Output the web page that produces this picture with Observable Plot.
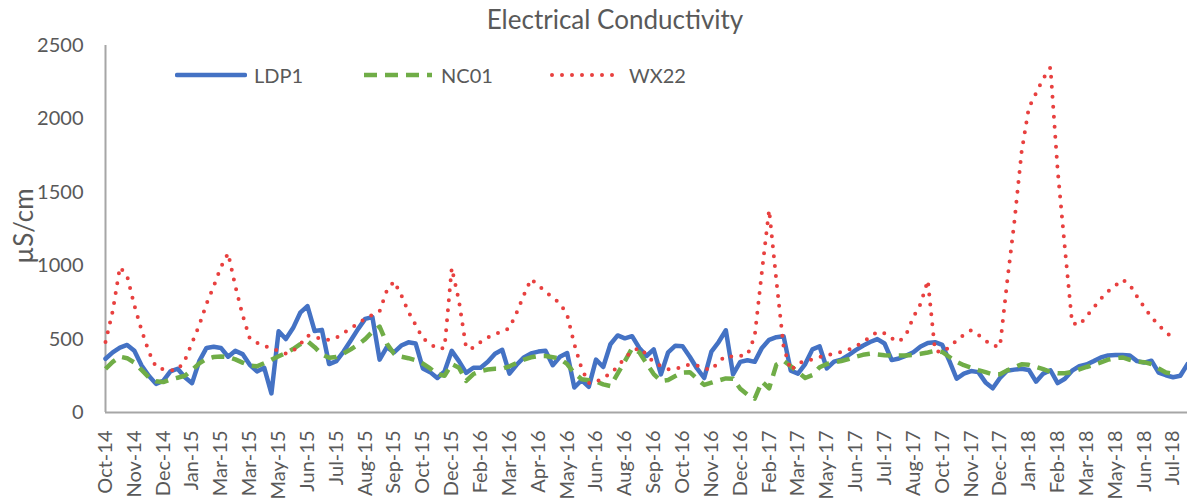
<!DOCTYPE html>
<html>
<head>
<meta charset="utf-8">
<script src="https://cdn.jsdelivr.net/npm/d3@7"></script>
<script src="https://cdn.jsdelivr.net/npm/@observablehq/plot@0.6"></script>
<style>
  body { margin: 0; background: #fff; font-family: Lato, "Open Sans", sans-serif; }
  #wrap { position: relative; width: 1187px; height: 501px; overflow: hidden; }
  #title { position: absolute; top: 3px; left: 615px; transform: translateX(-50%); white-space: nowrap;
           font-size: 26px; color: #595959; }
  #ylabel { position: absolute; left: 23px; top: 226px; transform: translate(-50%, -50%) rotate(-90deg);
            white-space: nowrap; font-size: 26px; color: #595959; }
  .leg { position: absolute; top: 62px; display: flex; align-items: center; font-size: 20px; color: #595959; }
  .leg svg { margin-right: 7px; }
  #chart { position: absolute; left: 0; top: 0; }
</style>
</head>
<body>
<div id="wrap">
  <div id="chart"></div>
  <div id="title">Electrical Conductivity</div>
  <div id="ylabel">µS/cm</div>
  <div id="legend"></div>
</div>
<script>
// ---- data ----
const seriesNames = ["LDP1", "NC01", "WX22"];
const seriesColors = ["#4472C4", "#70AD47", "#E8403F"];
const labels = ["Oct-14","Nov-14","Dec-14","Jan-15","Mar-15","Mar-15","May-15","Jun-15","Jul-15","Aug-15",
  "Sep-15","Oct-15","Dec-15","Feb-16","Mar-16","Apr-16","May-16","Jun-16","Aug-16","Sep-16",
  "Oct-16","Nov-16","Dec-16","Feb-17","Mar-17","May-17","Jun-17","Jul-17","Aug-17","Oct-17",
  "Nov-17","Dec-17","Jan-18","Feb-18","Mar-18","May-18","Jun-18","Jul-18"];
const pointsPerLabel = 4;
const yTicks = [0, 500, 1000, 1500, 2000, 2500];

const ldp1 = [366,410,442,460,420,320,250,195,215,280,298,240,200,350,440,448,440,380,420,398,
  325,280,305,130,554,500,575,680,725,555,563,330,350,415,490,568,638,650,360,445,
  410,456,478,470,300,275,235,280,420,350,270,305,305,345,400,427,265,325,375,403,
  415,420,322,380,405,170,220,175,360,310,465,525,505,520,440,385,430,260,410,455,
  452,380,300,235,415,480,560,260,345,356,345,440,495,513,520,285,265,330,430,450,
  300,346,360,390,425,455,480,500,470,357,368,388,410,450,474,479,460,350,230,265,
  282,275,205,165,235,285,292,298,290,210,265,288,200,230,285,315,327,350,375,389,
  392,391,388,350,340,353,272,254,240,250,330];

const nc01 = [298,345,380,370,340,290,240,213,207,225,237,250,290,335,365,378,381,378,362,340,
  320,315,336,360,383,405,432,465,486,445,395,373,378,402,430,462,500,550,585,470,
  400,380,370,356,333,300,262,250,330,305,215,262,282,293,298,298,315,337,360,376,
  385,385,377,366,330,268,227,220,211,192,180,265,350,438,410,335,262,215,222,248,
  272,275,230,188,203,218,232,230,162,122,95,210,165,325,352,315,275,235,255,308,
  330,342,351,364,380,393,400,395,390,388,388,388,393,400,409,420,412,378,345,322,
  306,289,275,260,260,287,308,328,325,310,295,277,268,268,276,293,310,325,342,360,
  370,375,359,347,343,330,300,272,265,null,null];

const wx22 = [480,690,990,930,730,560,415,310,295,288,290,355,475,595,740,860,990,1085,860,665,
  505,475,455,435,420,402,420,465,524,515,500,495,510,540,575,605,640,665,690,830,
  894,800,685,595,505,468,434,440,985,760,440,440,480,512,535,550,575,680,800,910,
  865,825,780,745,665,465,300,200,205,240,262,315,370,418,440,395,340,318,295,295,
  313,328,320,300,290,345,385,381,385,392,520,960,1380,900,450,285,336,350,362,377,
  392,400,412,428,450,478,515,550,540,505,482,530,650,740,900,420,410,445,490,530,
  560,530,490,455,449,890,1300,1775,2075,2175,2275,2350,1650,1120,610,595,655,715,775,826,
  865,905,870,790,717,650,595,545,510,null,null];

// ---- build ----
const seriesData = [ldp1, nc01, wx22];
const styles = [
  {strokeWidth: 4.5, strokeDasharray: null, strokeLinecap: "round"},
  {strokeWidth: 4.5, strokeDasharray: "13,8", strokeLinecap: "butt"},
  {strokeWidth: 4, strokeDasharray: "0,10", strokeLinecap: "round"}
];

const lineMarks = seriesData.map((arr, k) =>
  Plot.lineY(arr, {
    x: (d, i) => i,
    y: d => d,
    stroke: seriesColors[k],
    strokeWidth: styles[k].strokeWidth,
    strokeDasharray: styles[k].strokeDasharray,
    strokeLinecap: styles[k].strokeLinecap,
    strokeLinejoin: "round"
  })
);

const plot = Plot.plot({
  width: 1187,
  height: 501,
  marginLeft: 105,
  marginRight: 0,
  marginTop: 45,
  marginBottom: 89,
  style: {fontFamily: "Lato, 'Open Sans', sans-serif", fontSize: "20px", color: "#595959", background: "transparent"},
  x: {domain: [0, ldp1.length - 1], axis: null},
  y: {domain: [0, 2500], axis: null},
  marks: [
    Plot.axisY({ticks: yTicks, tickFormat: d => String(d), tickSize: 0, tickPadding: 22, label: null, fontSize: 20}),
    Plot.axisX({ticks: labels.map((_, j) => j * pointsPerLabel), tickFormat: d => labels[d / pointsPerLabel],
                tickRotate: -90, tickSize: 0, tickPadding: 18, label: null, fontSize: 20}),
    Plot.ruleX([0], {stroke: "#a6a6a6", strokeWidth: 2}),
    Plot.ruleY([0], {stroke: "#a6a6a6", strokeWidth: 2}),
    ...lineMarks
  ]
});
document.getElementById("chart").appendChild(plot);

// ---- legend ----
const legendPos = [175, 362, 550];
const legend = document.getElementById("legend");
seriesNames.forEach((name, k) => {
  const div = document.createElement("div");
  div.className = "leg";
  div.style.left = legendPos[k] + "px";
  const dash = styles[k].strokeDasharray ? `stroke-dasharray="${styles[k].strokeDasharray}"` : "";
  div.innerHTML = `<svg width="72" height="26"><line x1="2" y1="13" x2="70" y2="13" stroke="${seriesColors[k]}"
     stroke-width="${styles[k].strokeWidth}" stroke-linecap="${styles[k].strokeLinecap}" ${dash}/></svg><span>${name}</span>`;
  legend.appendChild(div);
});
</script>
</body>
</html>
